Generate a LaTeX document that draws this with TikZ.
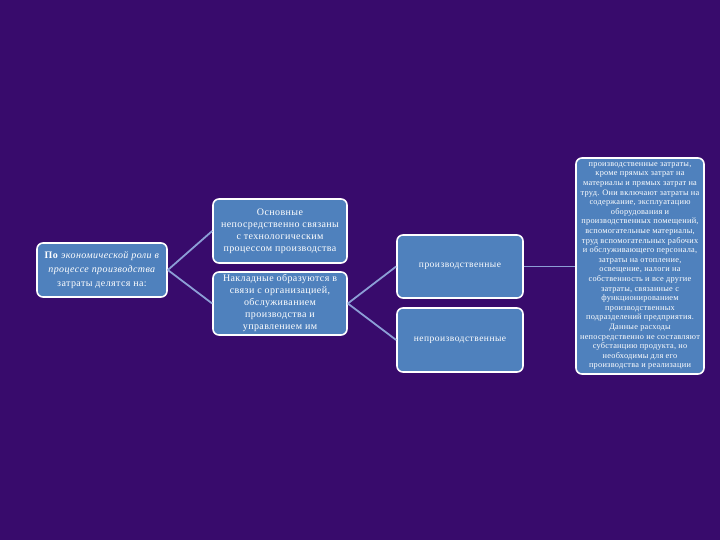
\documentclass[tikz,border=0pt]{standalone}
\usepackage{fontspec}
\setmainfont{Liberation Serif}
\definecolor{bgpurple}{HTML}{380B6C}
\definecolor{boxblue}{HTML}{4F81BD}
\definecolor{linkblue}{HTML}{8C9ED6}
\tikzset{
  box/.style={draw=white, line width=1.6pt, fill=boxblue, rounded corners=6pt,
    text=white, align=center, inner sep=2pt},
  link/.style={draw=linkblue, line width=1.8pt}
}
\newcommand{\wideTxt}[3]{\fontsize{#1}{#2}\selectfont\addfontfeatures{LetterSpace=#3}}
\begin{document}
\begin{tikzpicture}[x=1pt,y=1pt]
\fill[bgpurple] (0,0) rectangle (720,540);
\useasboundingbox (0,0) rectangle (720,540);
\node[box, minimum width=130pt, minimum height=54pt, font=\wideTxt{10}{14}{4}] (L) at (102,270)
  {\textbf{По} \textit{экономической роли в}\\ \textit{процессе производства}\\ затраты делятся на:};
\node[box, minimum width=134pt, minimum height=64pt, font=\wideTxt{10}{12}{4}] (M1) at (280,309)
  {Основные\\ непосредственно связаны\\ с технологическим\\ процессом производства};
\node[box, minimum width=134pt, minimum height=63pt, font=\wideTxt{10}{12}{4}] (M2) at (280,236.5)
  {Накладные образуются в\\ связи с организацией,\\ обслуживанием\\ производства и\\ управлением им};
\node[box, minimum width=126pt, minimum height=63pt, font=\wideTxt{9.5}{11}{5}] (R1) at (460,273.5)
  {производственные};
\node[box, minimum width=126pt, minimum height=64pt, font=\wideTxt{9.5}{11}{5}] (R2) at (460,200)
  {непроизводственные};
\node[box, minimum width=128pt, minimum height=216pt, inner sep=0.5pt, font=\wideTxt{8.3}{9.6}{3}] (F) at (640,274)
  {производственные затраты,\\ кроме прямых затрат на\\ материалы и прямых затрат на\\ труд. Они включают затраты на\\ содержание, эксплуатацию\\ оборудования и\\ производственных помещений,\\ вспомогательные материалы,\\ труд вспомогательных рабочих\\ и обслуживающего персонала,\\ затраты на отопление,\\ освещение, налоги на\\ собственность и все другие\\ затраты, связанные с\\ функционированием\\ производственных\\ подразделений предприятия.\\ Данные расходы\\ непосредственно не составляют\\ субстанцию продукта, но\\ необходимы для его\\ производства и реализации};
\draw[link] (L.east) -- (M1.west);
\draw[link] (L.east) -- (M2.west);
\draw[link] (M2.east) -- (R1.west);
\draw[link] (M2.east) -- (R2.west);
\draw[link] (R1.east) -- (F.west |- R1.east);
\end{tikzpicture}
\end{document}
